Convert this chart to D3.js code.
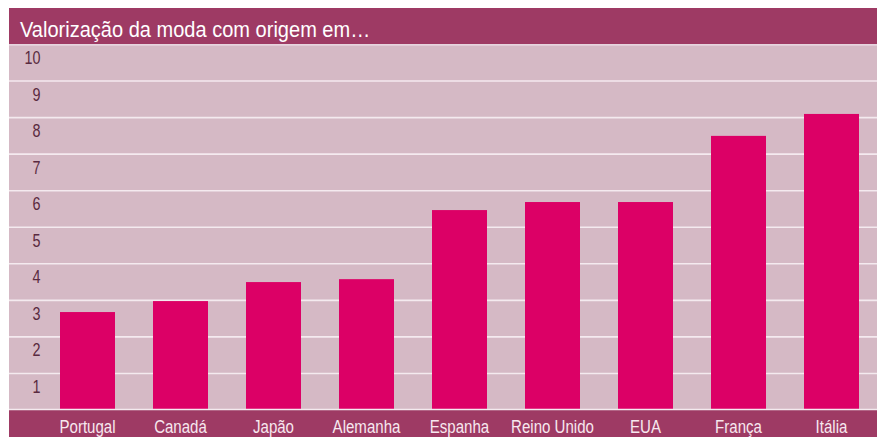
<!DOCTYPE html>
<html><head><meta charset="utf-8">
<script src="https://cdn.jsdelivr.net/npm/d3@7"></script>
<style>
html,body{margin:0;padding:0;background:#fff;}
svg{display:block;}
text{font-family:"Liberation Sans",Arial,sans-serif;}
</style></head>
<body>
<svg id="chart" width="877" height="437"></svg>
<script>
const title = "Valorização da moda com origem em…";
const categories = ["Portugal","Canadá","Japão","Alemanha","Espanha","Reino Unido","EUA","França","Itália"];
const values = [2.68, 2.98, 3.5, 3.58, 5.47, 5.69, 5.69, 7.5, 8.1];
const yTicks = [1,2,3,4,5,6,7,8,9,10];

const svg = d3.select("#chart");
const W = 877, leftX = 9, topY = 8, titleH = 36, plotTop = 44.5, plotBottom = 410, H = 437;

const x = d3.scaleBand().domain(categories).range([41, 878]).paddingInner(0.4086).paddingOuter(0.2043);
const y = d3.scaleLinear().domain([0, 10]).range([plotBottom, plotTop]);

// condense text horizontally (reference uses a condensed face)
function condense(sel, k) {
  sel.each(function () {
    const len = this.getComputedTextLength();
    d3.select(this).attr("textLength", len * k).attr("lengthAdjust", "spacingAndGlyphs");
  });
}

// title band
svg.append("rect").attr("x", leftX).attr("y", topY).attr("width", W - leftX).attr("height", titleH).attr("fill", "#9e3a64");
svg.append("text").attr("x", 20).attr("y", 37).attr("fill", "#ffffff").attr("font-size", 22.5).text(title)
  .call(condense, 0.89);

// plot bg
svg.append("rect").attr("x", leftX).attr("y", plotTop).attr("width", W - leftX).attr("height", plotBottom - plotTop).attr("fill", "#d5b9c5");
svg.append("line").attr("x1", leftX).attr("x2", W).attr("y1", plotTop + 0.5).attr("y2", plotTop + 0.5).attr("stroke", "#e6d2dc").attr("stroke-width", 1.5);

// gridlines
svg.append("g").selectAll("line").data(yTicks.filter(d => d < 10)).join("line")
  .attr("x1", leftX).attr("x2", W).attr("y1", d => y(d)).attr("y2", d => y(d))
  .attr("stroke", "#f4eaef").attr("stroke-width", 1.6);

// y labels
svg.append("g").selectAll("text").data(yTicks).join("text")
  .attr("x", 40.5).attr("y", d => y(d) + 19.5).attr("text-anchor", "end")
  .attr("fill", "#5a2a40").attr("font-size", 17.5).text(d => d)
  .call(condense, 0.82);

// bars
svg.append("g").selectAll("rect").data(values).join("rect")
  .attr("x", (d, i) => x(categories[i])).attr("width", x.bandwidth())
  .attr("y", d => y(d)).attr("height", d => y(0) - y(d))
  .attr("fill", "#dc0066");

// bottom band
svg.append("rect").attr("x", leftX).attr("y", plotBottom).attr("width", W - leftX).attr("height", H - plotBottom).attr("fill", "#9e3a64");
svg.append("line").attr("x1", leftX).attr("x2", W).attr("y1", plotBottom - 0.5).attr("y2", plotBottom - 0.5).attr("stroke", "#f4eaef").attr("stroke-width", 1.5);

// x labels
svg.append("g").selectAll("text").data(categories).join("text")
  .attr("x", d => x(d) + x.bandwidth() / 2).attr("y", 433)
  .attr("text-anchor", "middle").attr("fill", "#f7e8ef").attr("font-size", 17.5).text(d => d)
  .call(condense, 0.86);
</script>
</body></html>
